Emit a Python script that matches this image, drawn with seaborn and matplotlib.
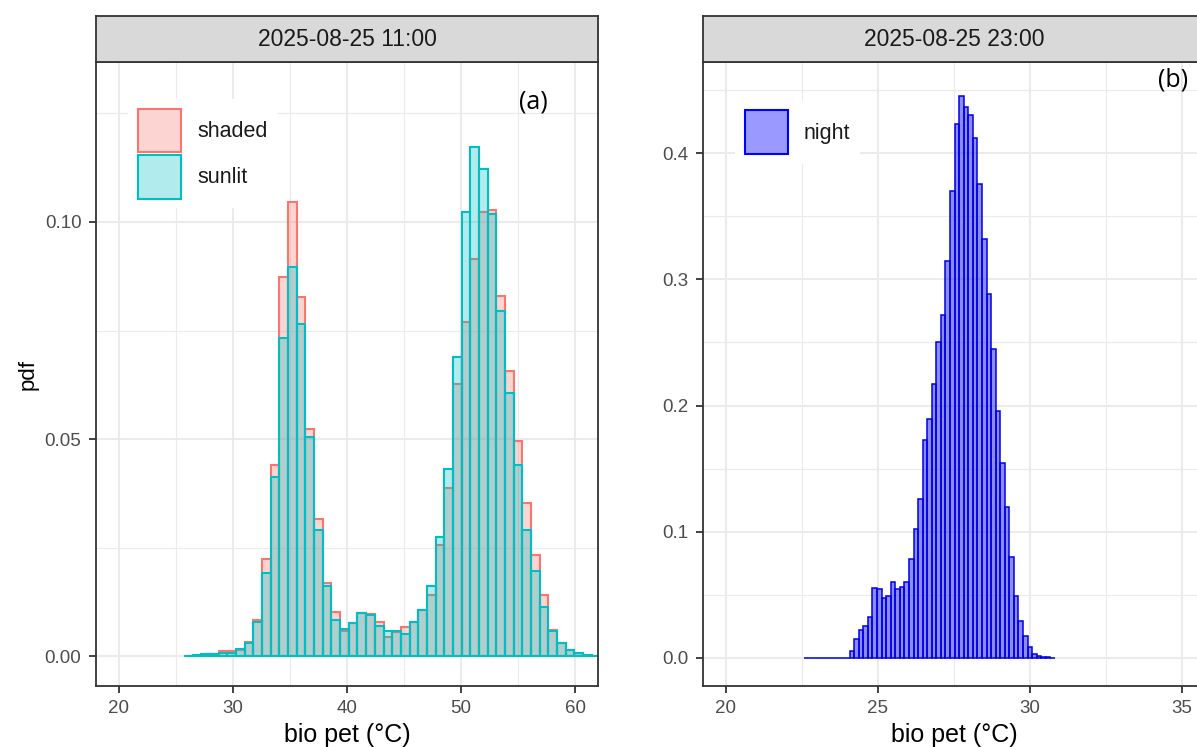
import numpy as np
import pandas as pd
import matplotlib
matplotlib.use("Agg")
import matplotlib.pyplot as plt
import seaborn as sns
from matplotlib.patches import Patch

sns.set_theme(style="white")
plt.rcParams['font.family'] = ['Liberation Sans', 'DejaVu Sans']

# ---------------- data ----------------
panel_titles = ["2025-08-25 11:00", "2025-08-25 23:00"]
panel_tags = ["(a)", "(b)"]
series_labels = ["shaded", "sunlit", "night"]

# panel (a): histogram bins (deg C) and pdf heights
a_bin_start = 25.72
a_bin_width = 0.76
shaded = [0.0002, 0.0004, 0.0005, 0.0006, 0.0012, 0.0012, 0.0015, 0.0033,
          0.0085, 0.0224, 0.0440, 0.0873, 0.1045, 0.0828, 0.0523, 0.0317,
          0.0170, 0.0102, 0.0058, 0.0078, 0.0099, 0.0097, 0.0080, 0.0044,
          0.0056, 0.0068, 0.0080, 0.0106, 0.0141, 0.0256, 0.0387, 0.0628,
          0.0770, 0.0914, 0.1022, 0.1028, 0.0830, 0.0656, 0.0496, 0.0353,
          0.0233, 0.0141, 0.0060, 0.0031, 0.0015, 0.0009, 0.0003, 0.0002]
sunlit = [0.0002, 0.0003, 0.0005, 0.0006, 0.0008, 0.0008, 0.0018, 0.0032,
          0.0079, 0.0191, 0.0414, 0.0733, 0.0896, 0.0765, 0.0506, 0.0291,
          0.0161, 0.0084, 0.0064, 0.0078, 0.0099, 0.0096, 0.0070, 0.0058,
          0.0058, 0.0052, 0.0080, 0.0106, 0.0161, 0.0275, 0.0432, 0.0689,
          0.1022, 0.1173, 0.1121, 0.1018, 0.0794, 0.0607, 0.0441, 0.0290,
          0.0196, 0.0113, 0.0058, 0.0031, 0.0015, 0.0009, 0.0003, 0.0002]

# panel (b)
b_bin_start = 22.57
b_bin_width = 0.15
night = [0.0, 0.0, 0.0, 0.0, 0.0, 0.0, 0.0, 0.0, 0.0, 0.0,
         0.0050, 0.0147, 0.0221, 0.0250, 0.0324, 0.0550, 0.0544, 0.0471,
         0.0485, 0.0597, 0.0544, 0.0557, 0.0601, 0.0785, 0.1018, 0.1258,
         0.1726, 0.1890, 0.2170, 0.2502, 0.2715, 0.3150, 0.3700, 0.4236,
         0.4456, 0.4370, 0.4305, 0.4120, 0.3756, 0.3322, 0.2886, 0.2450,
         0.1956, 0.1545, 0.1191, 0.0795, 0.0486, 0.0287, 0.0175, 0.0086,
         0.0030, 0.0015, 0.0005, 0.0002, 0.0]

a_xticks = [20, 30, 40, 50, 60]
a_xminor = [25, 35, 45, 55]
a_yticks = [0.00, 0.05, 0.10]
a_yticklabels = ["0.00", "0.05", "0.10"]
a_yminor = [0.025, 0.075, 0.125]
b_xticks = [20, 25, 30, 35]
b_xminor = [22.5, 27.5, 32.5]
b_yticks = [0.0, 0.1, 0.2, 0.3, 0.4]
b_yticklabels = ["0.0", "0.1", "0.2", "0.3", "0.4"]
b_yminor = [0.05, 0.15, 0.25, 0.35, 0.45]

# ---------------- styling ----------------
C_SHADED = "#F8766D"
C_SUNLIT = "#00BFC4"
C_NIGHT = "#0000FF"
GRID = "#EBEBEB"
DARK = "#333333"
TICKLAB = "#4D4D4D"

W, H = 1197, 747
fig = plt.figure(figsize=(W / 100, H / 100), dpi=100)
fig.patch.set_facecolor("white")

def px_axes(x0, y0, x1, y1):
    return fig.add_axes([x0 / W, 1 - y1 / H, (x1 - x0) / W, (y1 - y0) / H])

P_TOP, P_BOT = 62, 686
ax1 = px_axes(96, P_TOP, 598, P_BOT)
ax2 = px_axes(703, P_TOP, 1205, P_BOT)
s1 = px_axes(96, 16, 598, P_TOP)
s2 = px_axes(703, 16, 1205, P_TOP)

a_edges = [float(v) for v in a_bin_start + a_bin_width * np.arange(len(shaded) + 1)]
b_edges = [float(v) for v in b_bin_start + b_bin_width * np.arange(len(night) + 1)]
df_a = pd.DataFrame({
    "temp": [e + a_bin_width / 2 for e in a_edges[:-1]],
    "shaded": shaded,
    "sunlit": sunlit,
})
df_b = pd.DataFrame({
    "temp": [e + b_bin_width / 2 for e in b_edges[:-1]],
    "night": night,
})

sns.histplot(data=df_a, x="temp", weights="shaded", bins=a_edges, ax=ax1,
             stat="count", element="bars", color=C_SHADED, alpha=0.3,
             edgecolor=C_SHADED, linewidth=1.5, zorder=3)
sns.histplot(data=df_a, x="temp", weights="sunlit", bins=a_edges, ax=ax1,
             stat="count", element="bars", color=C_SUNLIT, alpha=0.3,
             edgecolor=C_SUNLIT, linewidth=1.5, zorder=4)
sns.histplot(data=df_b, x="temp", weights="night", bins=b_edges, ax=ax2,
             stat="count", element="bars", color=C_NIGHT, alpha=0.45,
             edgecolor="#0000E6", linewidth=1.1, zorder=3)

def style_panel(ax, xlim, ylim, xt, xm, yt, ytl, ym):
    ax.set_facecolor("white")
    ax.set_xlim(*xlim)
    ax.set_ylim(*ylim)
    ax.set_xticks(xt)
    ax.set_xticklabels([str(v) for v in xt])
    ax.set_xticks(xm, minor=True)
    ax.set_yticks(yt)
    ax.set_yticklabels(ytl)
    ax.set_yticks(ym, minor=True)
    ax.grid(True, which="major", color=GRID, linewidth=1.5, zorder=0)
    ax.grid(True, which="minor", color=GRID, linewidth=0.8, zorder=0)
    ax.set_axisbelow(True)
    ax.tick_params(which="major", direction="out", length=5, width=1.3,
                   color=DARK, labelcolor=TICKLAB, labelsize=13.5, pad=5.5,
                   bottom=True, left=True)
    ax.tick_params(axis="x", which="major", pad=5)
    ax.tick_params(which="minor", length=0)
    for sp in ax.spines.values():
        sp.set_color(DARK)
        sp.set_linewidth(1.3)
        sp.set_zorder(10)
    ax.set_xlabel("bio pet (°C)", fontsize=18, color="black")
    ax.xaxis.set_label_coords(0.5, (P_BOT - 735) / (P_BOT - P_TOP))
    ax.xaxis.label.set_va("center")

style_panel(ax1, (18, 62), (-0.0068, 0.1368), a_xticks, a_xminor,
            a_yticks, a_yticklabels, a_yminor)
style_panel(ax2, (19.25, 35.75), (-0.0225, 0.4725), b_xticks, b_xminor,
            b_yticks, b_yticklabels, b_yminor)
ax1.set_ylabel("pdf", fontsize=16, color="black")
ax1.yaxis.set_label_coords((28 - 96) / 502, 0.5)
ax1.yaxis.label.set_va("center")
ax2.set_ylabel("")

for s, title in zip([s1, s2], panel_titles):
    s.set_facecolor("#D9D9D9")
    s.set_xticks([])
    s.set_yticks([])
    for sp in s.spines.values():
        sp.set_color(DARK)
        sp.set_linewidth(1.3)
    s.text(0.5, 0.5, title, transform=s.transAxes, ha="center", va="center",
           fontsize=16.5, color="#1A1A1A")

# panel tags
ax1.text(56.3, 0.1275, panel_tags[0], ha="center", va="center", fontsize=18,
         family=["Open Sans", "DejaVu Sans"], color="black")
ax2.text(34.7, 0.458, panel_tags[1], ha="center", va="center", fontsize=18,
         family=["Open Sans", "DejaVu Sans"], color="black")

# legends
def add_legend(ax, handles, anchor):
    leg = ax.legend(handles=handles, loc="upper left", bbox_to_anchor=anchor,
                    frameon=True, fancybox=False, framealpha=1,
                    facecolor="white", edgecolor="none", fontsize=15.5,
                    handlelength=2.0, handleheight=2.75, labelspacing=0.12,
                    handletextpad=0.75, borderpad=0.45, borderaxespad=0)
    leg.set_zorder(20)
    for t in leg.get_texts():
        t.set_color("#1A1A1A")

add_legend(ax1, [
    Patch(facecolor=matplotlib.colors.to_rgba(C_SHADED, 0.3), edgecolor=C_SHADED,
          linewidth=1.5, label=series_labels[0]),
    Patch(facecolor=matplotlib.colors.to_rgba(C_SUNLIT, 0.3), edgecolor=C_SUNLIT,
          linewidth=1.5, label=series_labels[1]),
], (0.064, 0.941))
add_legend(ax2, [
    Patch(facecolor=matplotlib.colors.to_rgba(C_NIGHT, 0.4), edgecolor=C_NIGHT,
          linewidth=1.5, label=series_labels[2]),
], (0.064, 0.938))

fig.savefig("out.png", dpi=100, facecolor="white")
